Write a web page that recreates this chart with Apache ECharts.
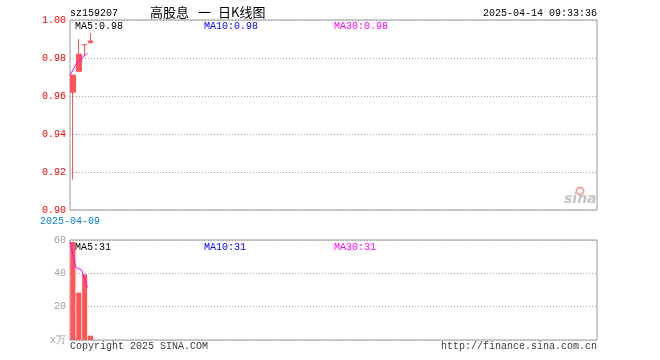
<!DOCTYPE html>
<html><head><meta charset="utf-8">
<script src="https://cdn.jsdelivr.net/npm/echarts@6/dist/echarts.min.js"></script>
<style>html,body{margin:0;padding:0;background:#fff}#c{width:660px;height:360px}</style>
</head><body><div id="c"></div>
<script>
// ---- data ----
const dates = ['2025-04-09', '2025-04-10', '2025-04-11', '2025-04-14'];
const opens  = [0.962, 0.973, 0.987, 0.988];
const closes = [0.971, 0.982, 0.987, 0.989];
const lows   = [0.916, 0.973, 0.981, 0.988];
const highs  = [0.971, 0.990, 0.987, 0.993];
const priceMA = [0.971, 0.9765, 0.980, 0.9826];
const volumes = [58.8, 28.4, 39.4, 2.6];
const volumeMA = [59, 43.5, 42, 31.5];
const priceTicks = [0.90, 0.92, 0.94, 0.96, 0.98, 1.00];
const volTicks = [0, 20, 40, 60];
const legendPrice = ['MA5:0.98', 'MA10:0.98', 'MA30:0.98'];
const legendVol = ['MA5:31', 'MA10:31', 'MA30:31'];
const titleParts = ['高股息', '一', '日K线图'];
const SLOTS = 90;

const mono = '"Liberation Mono", "DejaVu Sans Mono", monospace';
const cats = [];
for (let i = 0; i < SLOTS; i++) cats.push(i < dates.length ? dates[i] : 's' + i);
const edgeCats = [];
for (let i = 0; i <= SLOTS; i++) edgeCats.push(i < dates.length ? dates[i] : 'e' + i);
const kData = dates.map((d, i) => [opens[i], closes[i], lows[i], highs[i]]);
const red = '#ff5555';
const maColors = ['#000000', '#0000ff', '#ff00ff'];

const chart = echarts.init(document.getElementById('c'), null, {renderer: 'canvas'});
const hiddenX = (grid, data, bg) => ({
  type: 'category', gridIndex: grid, data: data, boundaryGap: bg, position: 'bottom',
  axisLine: {show: false}, axisTick: {show: false}, axisLabel: {show: false}, splitLine: {show: false}
});
const xAxes = [
  hiddenX(0, cats, true),
  Object.assign(hiddenX(0, edgeCats, false), {
    axisLabel: {show: true, color: '#0a80d0', fontFamily: mono, fontSize: 10, margin: 6,
      interval: 0, formatter: (v, i) => i === 0 ? v : ''}
  }),
  hiddenX(1, cats, true),
  hiddenX(1, edgeCats, false)
];
const splitDotted = {show: true, lineStyle: {color: '#a8a8a8', type: [1, 2], width: 1}};
const series = [
  {type: 'candlestick', xAxisIndex: 0, yAxisIndex: 0, data: kData, barWidth: 5,
   itemStyle: {color: red, color0: '#009900', borderColor: red, borderColor0: '#009900', borderWidth: 1}},
  {type: 'bar', xAxisIndex: 2, yAxisIndex: 1, data: volumes, barWidth: 5,
   itemStyle: {color: red}},
  {type: 'line', name: 'MA30', xAxisIndex: 1, yAxisIndex: 0, data: priceMA, symbol: 'none',
   lineStyle: {color: maColors[2], width: 1}, z: 5},
  {type: 'line', name: 'MA30v', xAxisIndex: 3, yAxisIndex: 1, data: volumeMA, symbol: 'none',
   lineStyle: {color: maColors[2], width: 1}, z: 5}
];

const txt = (x, y, s, color, extra) => Object.assign({
  type: 'text', x: x, y: y, z: 100,
  style: Object.assign({text: s, fill: color, font: '10px ' + mono, textVerticalAlign: 'middle'}, extra || {})
});
const legX = [75, 204, 334];
const cjk = {font: '13px "Noto Sans CJK SC", sans-serif'};
const graphics = [
  txt(70, 13, 'sz159207', '#000'),
  txt(150, 12, titleParts[0], '#000', cjk),
  txt(198, 12, titleParts[1], '#000', cjk),
  txt(218, 12, titleParts[2], '#000', cjk),
  txt(597, 13, '2025-04-14 09:33:36', '#000', {textAlign: 'right'}),
  txt(70, 346, 'Copyright 2025 SINA.COM', '#3a3a3a'),
  txt(597, 346, 'http://finance.sina.com.cn', '#3a3a3a', {textAlign: 'right'}),
  txt(564, 199, 'sina', '#c4c4c4', {font: 'italic bold 14px "DejaVu Sans", sans-serif'}),
  {type: 'circle', shape: {cx: 580, cy: 191, r: 3.5}, style: {fill: 'none', stroke: '#f3a5a5', lineWidth: 2}, z: 99}
];
legendPrice.forEach((s, k) => graphics.push(txt(legX[k], 26, s, maColors[k])));
legendVol.forEach((s, k) => graphics.push(txt(legX[k], 247, s, maColors[k])));

chart.setOption({
  animation: false,
  grid: [
    {left: 70, top: 20, width: 527, height: 190, show: true, borderColor: '#999', borderWidth: 1, containLabel: false},
    {left: 70, top: 240, width: 527, height: 100, show: true, borderColor: '#999', borderWidth: 1, containLabel: false}
  ],
  xAxis: xAxes,
  yAxis: [
    {type: 'value', gridIndex: 0, min: priceTicks[0], max: priceTicks[priceTicks.length - 1], interval: 0.02,
     axisLine: {show: false}, axisTick: {show: false}, splitLine: splitDotted,
     axisLabel: {color: '#ff0000', fontFamily: mono, fontSize: 10, margin: 4, padding: [4, 0, 0, 0],
       formatter: v => v.toFixed(2)}},
    {type: 'value', gridIndex: 1, min: volTicks[0], max: volTicks[volTicks.length - 1], interval: 20,
     axisLine: {show: false}, axisTick: {show: false}, splitLine: splitDotted,
     axisLabel: {color: '#a0a0a0', fontFamily: mono, fontSize: 10, margin: 4,
       formatter: v => v === 0 ? 'x万' : String(v)}}
  ],
  series: series,
  graphic: graphics
});
</script></body></html>
